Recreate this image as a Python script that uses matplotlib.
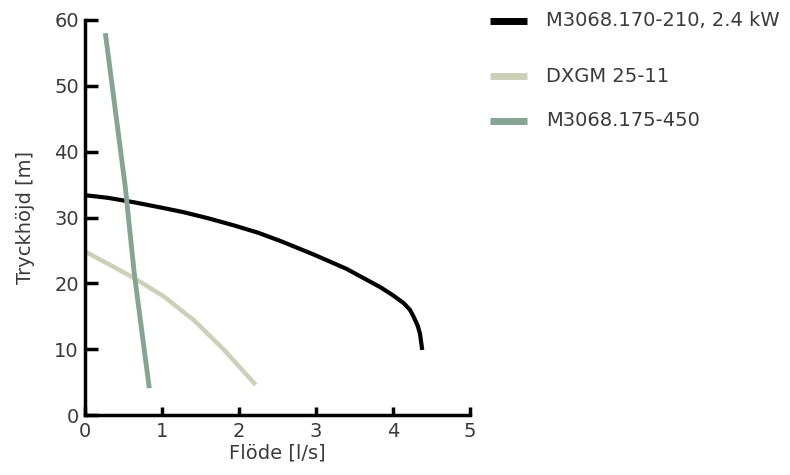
import matplotlib
matplotlib.use("Agg")
import matplotlib.pyplot as plt
from matplotlib.lines import Line2D

# Pump curves
m3068_210_flow = [0.0, 0.3, 0.65, 1.0, 1.29, 1.6, 1.94, 2.25, 2.55, 2.97, 3.4, 3.84, 4.0, 4.14, 4.22, 4.27, 4.32, 4.35, 4.38]
m3068_210_head = [33.4, 33.0, 32.3, 31.5, 30.8, 29.9, 28.8, 27.7, 26.4, 24.4, 22.2, 19.4, 18.2, 17.0, 16.0, 14.9, 13.6, 12.4, 9.9]

dxgm_flow = [0.0, 0.3, 0.645, 1.03, 1.42, 1.81, 2.22]
dxgm_head = [24.9, 23.0, 20.8, 18.0, 14.4, 9.9, 4.6]

m3068_450_flow = [0.27, 0.53, 0.645, 0.84]
m3068_450_head = [58.0, 34.5, 21.5, 4.1]

series_names = ["M3068.170-210, 2.4 kW", "DXGM 25-11", "M3068.175-450"]
series_colors = ["#000000", "#cdd0b9", "#85a592"]

x_ticks = [0, 1, 2, 3, 4, 5]
y_ticks = [0, 10, 20, 30, 40, 50, 60]

text_color = "#3a3a3a"

fig = plt.figure(figsize=(7.9, 4.75), dpi=100)
ax = fig.add_axes([0.107, 0.126, 0.488, 0.832])

ax.plot(m3068_210_flow, m3068_210_head, color=series_colors[0], lw=3, solid_capstyle="butt")
ax.plot(dxgm_flow, dxgm_head, color=series_colors[1], lw=3.2, solid_capstyle="butt")
ax.plot(m3068_450_flow, m3068_450_head, color=series_colors[2], lw=3.5, solid_capstyle="butt")

ax.set_xlim(0, 5)
ax.set_ylim(0, 60)
ax.set_xticks(x_ticks)
ax.set_yticks(y_ticks)

for side in ["top", "right"]:
    ax.spines[side].set_visible(False)
for side in ["left", "bottom"]:
    ax.spines[side].set_linewidth(2.5)

ax.tick_params(axis="y", direction="in", length=9, width=2.5, pad=4,
               labelsize=14, labelcolor=text_color)
ax.tick_params(axis="x", direction="in", length=6, width=2.5, pad=5,
               labelsize=14, labelcolor=text_color)

ax.set_xlabel("Flöde [l/s]", fontsize=14, color=text_color, labelpad=2)
ax.set_ylabel("Tryckhöjd [m]", fontsize=14, color=text_color, labelpad=14)

# Legend drawn by hand to keep the uneven row spacing
legend_rows = [1 - 21 / 475, 1 - 76 / 475, 1 - 121 / 475]
for name, color, y in zip(series_names, series_colors, legend_rows):
    fig.add_artist(Line2D([490 / 790, 527 / 790], [y, y], color=color, lw=5,
                          transform=fig.transFigure, solid_capstyle="butt"))
    fig.text(546 / 790, y, name, fontsize=14, color=text_color, va="center", ha="left")

plt.savefig("out.png", dpi=100)
plt.close()
